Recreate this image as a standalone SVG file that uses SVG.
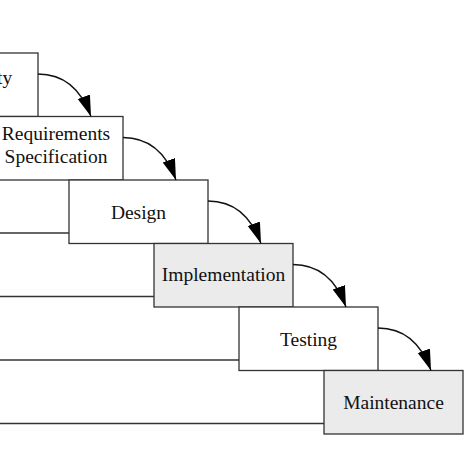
<svg xmlns="http://www.w3.org/2000/svg" width="474" height="474" viewBox="0 0 474 474">
<style>
.box{stroke:#333;stroke-width:1.3;fill:#fff}
.gray{fill:#ebebeb}
.lbl{font-family:"Liberation Serif","Times New Roman",serif;font-size:19.5px;fill:#111;text-anchor:middle}
.edge{fill:none;stroke:#111;stroke-width:1.3}
.ln{stroke:#333;stroke-width:1.3}
</style>
<defs>
<marker id="ah" markerUnits="userSpaceOnUse" markerWidth="23" markerHeight="14" refX="21" refY="6.5" orient="auto">
<path d="M0,0 L21,6.5 L0,13 z" fill="#000"/>
</marker>
</defs>
<rect width="474" height="474" fill="#fff"/>
<g id="backlines">
<line class="ln" x1="-10" y1="233" x2="69" y2="233"/>
<line class="ln" x1="-10" y1="296.5" x2="154" y2="296.5"/>
<line class="ln" x1="-10" y1="360" x2="239" y2="360"/>
<line class="ln" x1="-10" y1="423.5" x2="324" y2="423.5"/>
</g>
<g id="feasibility">
<rect class="box" x="-101" y="53" width="139" height="63.5"/>
<text class="lbl" x="-29" y="84">Feasibility</text>
</g>
<g id="requirements">
<rect class="box" x="-16" y="116.5" width="139" height="63.5"/>
<text class="lbl" x="56" y="140">Requirements</text>
<text class="lbl" x="56" y="163">Specification</text>
</g>
<g id="design">
<rect class="box" x="69" y="180" width="139" height="63.5"/>
<text class="lbl" x="138.5" y="219">Design</text>
</g>
<g id="implementation">
<rect class="box gray" x="154" y="243.5" width="139" height="63.5"/>
<text class="lbl" x="223.5" y="281">Implementation</text>
</g>
<g id="testing">
<rect class="box" x="239" y="307" width="139" height="63.5"/>
<text class="lbl" x="308.5" y="346">Testing</text>
</g>
<g id="maintenance">
<rect class="box gray" x="324" y="370.5" width="139" height="63.5"/>
<text class="lbl" x="393.5" y="409">Maintenance</text>
</g>
<g id="connectors">
<path class="edge" marker-end="url(#ah)" d="M38,74 C63,74 81,89 91,116.5"/>
<path class="edge" marker-end="url(#ah)" d="M123,137.5 C148,137.5 166,152.5 176,180"/>
<path class="edge" marker-end="url(#ah)" d="M208,201 C233,201 251,216 261,243.5"/>
<path class="edge" marker-end="url(#ah)" d="M293,264.5 C318,264.5 336,279.5 346,307"/>
<path class="edge" marker-end="url(#ah)" d="M378,328 C403,328 421,343 431,370.5"/>
</g>
</svg>
